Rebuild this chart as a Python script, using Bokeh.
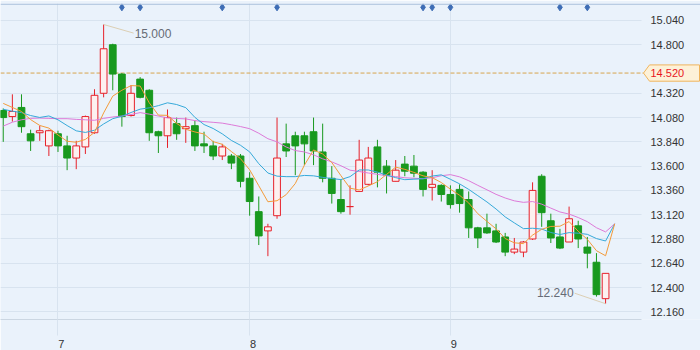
from bokeh.plotting import figure
from bokeh.models import Range1d, FixedTicker, Span, PrintfTickFormatter
from bokeh.embed import file_html
from bokeh.resources import INLINE
from bokeh.core.properties import value

# ---------------- data (daily candles) ----------------
opens = [14.15, 14.09, 14.18, 13.92, 13.93, 13.80, 13.92, 13.80, 13.68, 13.79,
         13.93, 14.32, 14.80, 14.51, 14.10, 14.46, 14.35, 13.94, 13.90, 14.02,
         13.97, 14.00, 13.82, 13.80, 13.70, 13.70, 13.70, 13.48, 13.15, 12.96,
         13.11, 13.82, 13.90, 13.90, 13.94, 13.74, 13.48, 13.27, 13.20, 13.35,
         13.42, 13.79, 13.60, 13.45, 13.62, 13.60, 13.54, 13.39, 13.41, 13.32,
         13.37, 13.27, 12.99, 12.99, 12.96, 12.90, 12.75, 12.75, 12.88, 13.50,
         13.06, 12.90, 12.85, 13.01, 12.80, 12.65, 12.29]
highs = [14.17, 14.31, 14.31, 13.96, 14.00, 13.96, 13.95, 13.90, 13.85, 14.10,
         14.36, 15.00, 14.81, 14.52, 14.40, 14.48, 14.36, 13.95, 14.16, 14.08,
         14.08, 14.05, 13.94, 13.85, 13.82, 13.72, 13.72, 13.54, 13.30, 13.03,
         14.08, 14.02, 13.94, 13.94, 14.08, 14.02, 13.60, 13.47, 13.41, 13.86,
         13.79, 13.86, 13.66, 13.66, 13.70, 13.71, 13.55, 13.56, 13.42, 13.41,
         13.42, 13.35, 13.00, 13.13, 13.03, 12.94, 12.89, 12.86, 13.44, 13.52,
         13.13, 12.98, 13.20, 13.06, 12.90, 12.74, 12.54]
lows = [13.84, 14.04, 13.93, 13.75, 13.85, 13.70, 13.74, 13.56, 13.57, 13.72,
        13.92, 14.28, 14.35, 13.99, 14.09, 14.27, 13.85, 13.73, 13.78, 13.86,
        13.83, 13.75, 13.73, 13.66, 13.66, 13.57, 13.39, 13.11, 12.82, 12.71,
        13.08, 13.69, 13.51, 13.61, 13.61, 13.44, 13.23, 13.13, 13.12, 13.35,
        13.41, 13.39, 13.33, 13.45, 13.50, 13.49, 13.30, 13.26, 13.25, 13.18,
        13.14, 12.89, 12.79, 12.93, 12.84, 12.71, 12.73, 12.70, 12.87, 13.00,
        12.84, 12.78, 12.85, 12.79, 12.59, 12.31, 12.24]
closes = [14.08, 14.14, 13.99, 13.85, 13.95, 13.95, 13.80, 13.68, 13.80, 14.09,
          14.30, 14.76, 14.51, 14.09, 14.32, 14.28, 13.93, 13.90, 14.08, 13.92,
          13.99, 13.80, 13.80, 13.70, 13.79, 13.63, 13.45, 13.25, 12.91, 13.00,
          13.68, 13.75, 13.80, 13.82, 13.75, 13.48, 13.33, 13.15, 13.20, 13.66,
          13.68, 13.54, 13.51, 13.56, 13.55, 13.53, 13.37, 13.42, 13.32, 13.22,
          13.23, 12.99, 12.89, 12.94, 12.85, 12.75, 12.78, 12.85, 13.36, 13.14,
          12.89, 12.79, 13.08, 12.88, 12.74, 12.33, 12.54]

# moving-average lines as drawn (one extra point past the last candle)
ma5 = [14.22, 14.18, 14.14, 14.06, 14.002, 13.976, 13.908, 13.846, 13.836, 13.864,
       13.934, 14.126, 14.292, 14.35, 14.396, 14.392, 14.226, 14.104, 14.102, 14.022,
       13.964, 13.938, 13.918, 13.842, 13.816, 13.744, 13.674, 13.564, 13.406, 13.248,
       13.258, 13.318, 13.428, 13.61, 13.76, 13.72, 13.636, 13.506, 13.382, 13.364,
       13.404, 13.446, 13.518, 13.59, 13.568, 13.538, 13.504, 13.486, 13.438, 13.372,
       13.312, 13.236, 13.13, 13.054, 12.98, 12.884, 12.842, 12.834, 12.918, 12.976,
       13.004, 13.006, 13.052, 12.956, 12.876, 12.764, 12.714, 13.03]
ma10 = [14.162, 14.143, 14.129, 14.10, 14.081, 14.096, 14.058, 14.001, 13.949, 13.933,
        13.955, 14.017, 14.069, 14.093, 14.13, 14.163, 14.176, 14.198, 14.226, 14.209,
        14.178, 14.082, 14.011, 13.972, 13.919, 13.854, 13.806, 13.741, 13.624, 13.532,
        13.501, 13.496, 13.496, 13.508, 13.504, 13.489, 13.477, 13.467, 13.496, 13.562,
        13.562, 13.541, 13.512, 13.486, 13.466, 13.471, 13.475, 13.502, 13.514, 13.47,
        13.425, 13.37, 13.308, 13.246, 13.176, 13.098, 13.039, 12.982, 12.986, 12.978,
        12.944, 12.924, 12.943, 12.937, 12.926, 12.884, 12.86, 13.03]
ma20 = [13.996, 14.034, 14.058, 14.072, 14.075, 14.072, 14.069, 14.069, 14.062, 14.058,
        14.053, 14.072, 14.086, 14.095, 14.11, 14.129, 14.114, 14.095, 14.077, 14.071,
        14.067, 14.05, 14.04, 14.033, 14.025, 14.009, 13.991, 13.97, 13.925, 13.871,
        13.84, 13.789, 13.754, 13.74, 13.712, 13.672, 13.642, 13.604, 13.56, 13.547,
        13.532, 13.519, 13.504, 13.497, 13.485, 13.48, 13.476, 13.485, 13.505, 13.516,
        13.494, 13.456, 13.41, 13.366, 13.321, 13.285, 13.257, 13.242, 13.25, 13.224,
        13.185, 13.147, 13.126, 13.092, 13.051, 12.991, 12.95, 13.03]

month_starts = [6, 27, 49]          # first candle of each month
month_labels = ["7", "8", "9"]
price_ticks = [12.16, 12.40, 12.64, 12.88, 13.12, 13.36, 13.60, 13.84, 14.08, 14.32, 14.80, 15.04]
event_days = [13, 15, 24, 30, 46, 47, 49, 61, 64]
ref_price = 14.52

# ---------------- style ----------------
BG = "#eaf2fb"
GRID = "#d8e3ef"
UP = "#e6212a"
DOWN = "#18991e"
HOLLOW = "#fdf0f0"
FONT = "Liberation Sans"

n = len(closes)
days = list(range(n))
ma_days = list(range(len(ma5)))

# frame spans the whole width; the price axis sits at the right edge of the chart area
FRAME_W, FRAME_H = 700, 330
AREA_W = 641
x_start, x_end = -0.3, 76.4
y_start, y_end = 12.084, 15.2075
kx = (x_end - x_start) / FRAME_W
ky = (y_end - y_start) / FRAME_H
x_area_end = x_start + AREA_W * kx

p = figure(width=700, height=350, title=None,
           x_range=Range1d(x_start, x_end), y_range=Range1d(y_start, y_end),
           y_axis_location="right", output_backend="svg", toolbar_location=None,
           min_border_left=0, min_border_right=0, min_border_top=3, min_border_bottom=17,
           background_fill_color=BG, border_fill_color=BG, outline_line_color=None)

up = [i for i in days if closes[i] >= opens[i]]
dn = [i for i in days if closes[i] < opens[i]]

# reference price line (drawn first, under the candles)
p.segment(x0=[x_start], y0=[ref_price], x1=[x_area_end + 2 * kx], y1=[ref_price],
          line_color="#d7a54e", line_dash="4 2", line_width=1)

p.segment(x0=up, y0=[lows[i] for i in up], x1=up, y1=[highs[i] for i in up],
          line_color=UP, line_width=1)
p.segment(x0=dn, y0=[lows[i] for i in dn], x1=dn, y1=[highs[i] for i in dn],
          line_color=DOWN, line_width=1)
p.vbar(x=up, width=0.74, bottom=[opens[i] for i in up], top=[closes[i] for i in up],
       fill_color=HOLLOW, line_color=UP, line_width=1)
p.vbar(x=dn, width=0.74, bottom=[closes[i] for i in dn], top=[opens[i] for i in dn],
       fill_color=DOWN, line_color=DOWN, line_width=1)

p.line(ma_days, ma20, line_color="#dd7ad8", line_width=1)
p.line(ma_days, ma10, line_color="#36a9d9", line_width=1)
p.line(ma_days, ma5, line_color="#f39b3a", line_width=1)

# event markers along the top
p.scatter(event_days, [y_end - 4 * ky] * len(event_days), marker="diamond", size=7,
          fill_color="#3e6db5", line_color="#3e6db5")

# high / low annotations
hi_i = highs.index(max(highs)); hi_v = highs[hi_i]
lo_i = lows.index(min(lows)); lo_v = lows[lo_i]
p.segment(x0=[hi_i], y0=[hi_v], x1=[hi_i + 30 * kx], y1=[hi_v - 9 * ky], line_color="#dccfb4")
p.text(x=[hi_i], y=[hi_v], text=[f"{hi_v:.3f}"], x_offset=31, y_offset=9,
       text_align="left", text_baseline="middle", text_font=value(FONT),
       text_font_size="12px", text_color="#666b75")
p.segment(x0=[lo_i], y0=[lo_v], x1=[lo_i - 31 * kx], y1=[lo_v + 11 * ky], line_color="#dccfb4")
p.text(x=[lo_i], y=[lo_v], text=[f"{lo_v:.3f}"], x_offset=-32, y_offset=-11,
       text_align="right", text_baseline="middle", text_font=value(FONT),
       text_font_size="12px", text_color="#666b75")

# price tag for the reference line
p.patch(x=[x_area_end + 2 * kx, x_area_end + 8 * kx, x_area_end + 58 * kx,
           x_area_end + 58 * kx, x_area_end + 8 * kx],
        y=[ref_price, ref_price + 8.5 * ky, ref_price + 8.5 * ky,
           ref_price - 8.5 * ky, ref_price - 8.5 * ky],
        fill_color="#fdf1d8", line_color="#f0b45c", line_width=1)
p.text(x=[x_area_end], y=[ref_price], text=[f"{ref_price:.3f}"], x_offset=9,
       text_align="left", text_baseline="middle", text_font=value(FONT),
       text_font_size="11px", text_color="#e8151f")

# top border line
p.add_layout(Span(location=y_end - 0.6 * ky, dimension="width",
                  line_color="#a9bfdb", line_width=1.2))

# axes
xa = p.xaxis[0]
xa.ticker = FixedTicker(ticks=[m + 0.375 for m in month_starts], minor_ticks=month_starts)
xa.major_label_overrides = {m + 0.375: lab for m, lab in zip(month_starts, month_labels)}
xa.bounds = (x_start, x_area_end)
xa.major_tick_out = 0
xa.major_tick_in = 0
xa.minor_tick_in = 0
xa.minor_tick_out = 16
xa.minor_tick_line_color = GRID
xa.axis_line_color = "#cbd6e2"
xa.major_label_standoff = 4
xa.major_label_text_font_size = "11px"
xa.major_label_text_font = FONT
xa.major_label_text_color = "#333333"

ya = p.yaxis[0]
ya.fixed_location = x_area_end
ya.ticker = FixedTicker(ticks=price_ticks)
ya.formatter = PrintfTickFormatter(format="%.3f")
ya.major_tick_out = 0
ya.major_tick_in = 0
ya.minor_tick_out = 0
ya.minor_tick_in = 0
ya.axis_line_color = None
ya.major_label_standoff = 9
ya.major_label_text_font_size = "11px"
ya.major_label_text_font = FONT
ya.major_label_text_color = "#333333"

p.xgrid.ticker = FixedTicker(ticks=month_starts)
p.xgrid.grid_line_color = GRID
p.ygrid.grid_line_color = GRID
p.ygrid.cross_bounds = (x_start, x_area_end)

open("out.html", "w").write(file_html(p, INLINE, "chart"))
